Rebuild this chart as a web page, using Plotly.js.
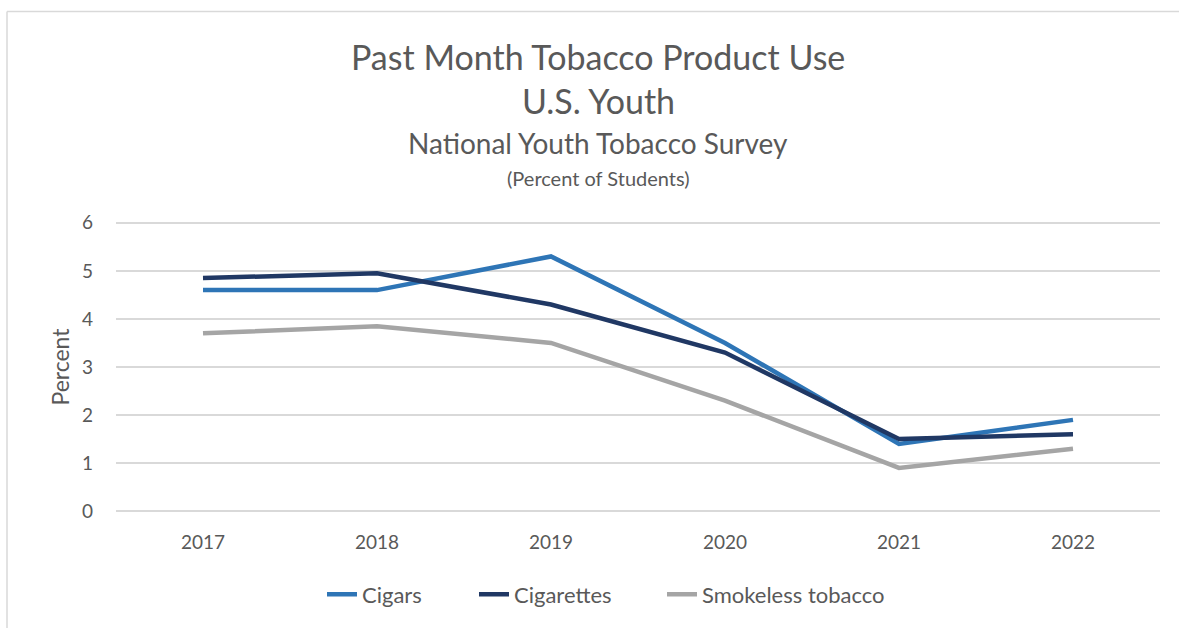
<!DOCTYPE html>
<html>
<head>
<meta charset="utf-8">
<script src="https://cdn.plot.ly/plotly-3.0.1.min.js"></script>
<style>html,body{margin:0;padding:0;background:#fff;}#chart{width:1179px;height:628px;}</style>
</head>
<body>
<div id="chart"></div>
<script>
const years = ["2017", "2018", "2019", "2020", "2021", "2022"];
const cigars = [4.6, 4.6, 5.3, 3.5, 1.4, 1.9];
const cigarettes = [4.85, 4.95, 4.3, 3.3, 1.5, 1.6];
const smokeless = [3.7, 3.85, 3.5, 2.3, 0.9, 1.3];
const seriesNames = ["Cigars", "Cigarettes", "Smokeless tobacco"];
const yTicks = [0, 1, 2, 3, 4, 5, 6];

const FONT = "Lato, 'Open Sans', sans-serif";
const TXT = "#595959";

const mk = (y, name, color, lg) => ({
  x: years, y: y, name: name, type: "scatter", mode: "lines",
  line: {color: color, width: 4.5}, legend: lg
});

const data = [
  mk(cigars, seriesNames[0], "#2E75B6", "legend"),
  mk(cigarettes, seriesNames[1], "#203864", "legend2"),
  mk(smokeless, seriesNames[2], "#A5A5A5", "legend3")
];

// paper-fraction helpers from pixel coordinates (plot area x 116..1160, y 218..518)
const yp = (px) => (518 - px) / 300;
const xp = (px) => (px - 116) / 1044;

const lg = (px) => ({orientation: "h", x: xp(px), xanchor: "left", y: yp(597), yanchor: "middle",
  font: {size: 22, color: TXT, family: FONT}, itemwidth: 30, bgcolor: "rgba(0,0,0,0)"});

const layout = {
  width: 1179, height: 628,
  margin: {l: 116, r: 19, t: 218, b: 110},
  paper_bgcolor: "#ffffff", plot_bgcolor: "#ffffff",
  font: {family: FONT, color: TXT},
  showlegend: true,
  legend: lg(322),
  legend2: lg(474),
  legend3: lg(662),
  xaxis: {type: "category", range: [-0.5, 5.5], showgrid: false, zeroline: false,
    showline: false, ticks: "", tickfont: {size: 19, color: TXT, family: FONT}, ticklabelstandoff: 13},
  yaxis: {range: [-0.1, 6.1], tickvals: yTicks, showgrid: true, gridcolor: "#D9D9D9", gridwidth: 1.5,
    zeroline: false, showline: false, ticks: "", tickfont: {size: 19, color: TXT, family: FONT},
    ticklabelstandoff: 22,
    title: {text: "Percent", font: {size: 23, color: TXT, family: FONT}, standoff: 5}},
  annotations: [
    {text: "Past Month Tobacco Product Use", x: 0.462, y: yp(55), size: 34},
    {text: "U.S. Youth", x: 0.462, y: yp(100), size: 34},
    {text: "National Youth Tobacco Survey", x: 0.462, y: yp(142), size: 28},
    {text: "(Percent of Students)", x: 0.462, y: yp(178), size: 20}
  ].map(a => ({text: a.text, x: a.x, y: a.y, xref: "paper", yref: "paper",
    xanchor: "center", yanchor: "middle", showarrow: false,
    font: {size: a.size, color: TXT, family: FONT}})),
  shapes: [
    {type: "line", xref: "paper", yref: "paper", x0: xp(7), x1: xp(1185),
      y0: yp(10), y1: yp(10), line: {color: "#D9D9D9", width: 1.5}},
    {type: "line", xref: "paper", yref: "paper", x0: xp(7), x1: xp(7),
      y0: yp(10), y1: yp(640), line: {color: "#D9D9D9", width: 1.5}}
  ]
};

Plotly.newPlot("chart", data, layout, {displayModeBar: false, staticPlot: true});
</script>
</body>
</html>
